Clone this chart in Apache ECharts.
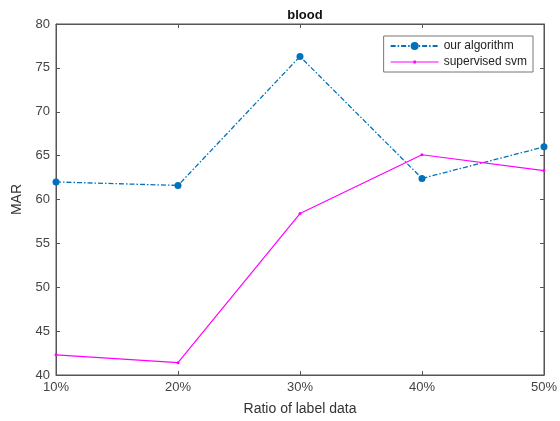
<!DOCTYPE html>
<html><head><meta charset="utf-8">
<script src="https://cdn.jsdelivr.net/npm/echarts@6/dist/echarts.min.js"></script>
<style>html,body{margin:0;padding:0;background:#fff}#c{width:560px;height:421px}</style>
</head><body><div id="c"></div>
<script>
const categories = ['10%', '20%', '30%', '40%', '50%'];
const ourAlgorithm = [62.0, 61.6, 76.3, 62.4, 66.0];
const supervisedSvm = [42.3, 41.4, 58.4, 65.1, 63.3];
const yTicks = { min: 40, max: 80, interval: 5 };

const chart = echarts.init(document.getElementById('c'));
const axisCol = '#555';
const font = 'Liberation Sans, Arial, sans-serif';
chart.setOption({
  animation: false,
  textStyle: { fontFamily: font },
  title: { text: 'blood', left: 300, top: 4, textAlign: 'center',
    textStyle: { fontSize: 13, fontWeight: 'bold', color: '#111', fontFamily: font } },
  grid: { left: 56, right: 15, top: 24, bottom: 46, show: true, borderColor: axisCol, borderWidth: 1 },
  legend: {
    orient: 'vertical', right: 27, top: 36, padding: [4, 6, 4, 6],
    borderColor: '#777', borderWidth: 1, itemGap: 4, itemWidth: 48, itemHeight: 10,
    backgroundColor: '#fff',
    textStyle: { fontSize: 12, color: '#222', fontFamily: font },
    data: [
      { name: 'our algorithm' },
      { name: 'supervised svm', icon: 'path://M0,4.4 L48,4.4 L48,5.6 L0,5.6 Z M22.8,3.6 L25.2,3.6 L25.2,6.4 L22.8,6.4 Z' }
    ]
  },
  xAxis: [{
    type: 'category', data: categories, boundaryGap: false,
    name: 'Ratio of label data', nameLocation: 'middle', nameGap: 27,
    nameTextStyle: { fontSize: 14, color: '#333' },
    axisLine: { lineStyle: { color: axisCol } },
    axisTick: { inside: true, length: 4, lineStyle: { color: axisCol } },
    axisLabel: { fontSize: 13, color: '#444', margin: 6 },
    splitLine: { show: false }
  }, {
    type: 'category', data: categories, boundaryGap: false, position: 'top',
    axisLine: { lineStyle: { color: axisCol } },
    axisTick: { inside: true, length: 4, lineStyle: { color: axisCol } },
    axisLabel: { show: false }
  }],
  yAxis: [{
    type: 'value', min: yTicks.min, max: yTicks.max, interval: yTicks.interval,
    name: 'MAR', nameLocation: 'middle', nameGap: 28, nameRotate: 90,
    nameTextStyle: { fontSize: 14, color: '#333' },
    axisLine: { show: true, lineStyle: { color: axisCol } },
    axisTick: { show: true, inside: true, length: 4, lineStyle: { color: axisCol } },
    axisLabel: { fontSize: 13, color: '#444', margin: 6 },
    splitLine: { show: false }
  }, {
    type: 'value', min: yTicks.min, max: yTicks.max, interval: yTicks.interval, position: 'right',
    axisLine: { show: true, lineStyle: { color: axisCol } },
    axisTick: { show: true, inside: true, length: 4, lineStyle: { color: axisCol } },
    axisLabel: { show: false }, splitLine: { show: false }
  }],
  series: [{
    name: 'our algorithm', type: 'line', data: ourAlgorithm,
    symbol: 'circle', symbolSize: 7,
    itemStyle: { color: '#0072BD' },
    lineStyle: { color: '#0072BD', width: 1.3, type: [5, 2, 1.5, 2] }
  }, {
    name: 'supervised svm', type: 'line', data: supervisedSvm,
    symbol: 'circle', symbolSize: 3,
    itemStyle: { color: '#FF00FF' },
    lineStyle: { color: '#FF00FF', width: 1.2 }
  }]
});
</script></body></html>
